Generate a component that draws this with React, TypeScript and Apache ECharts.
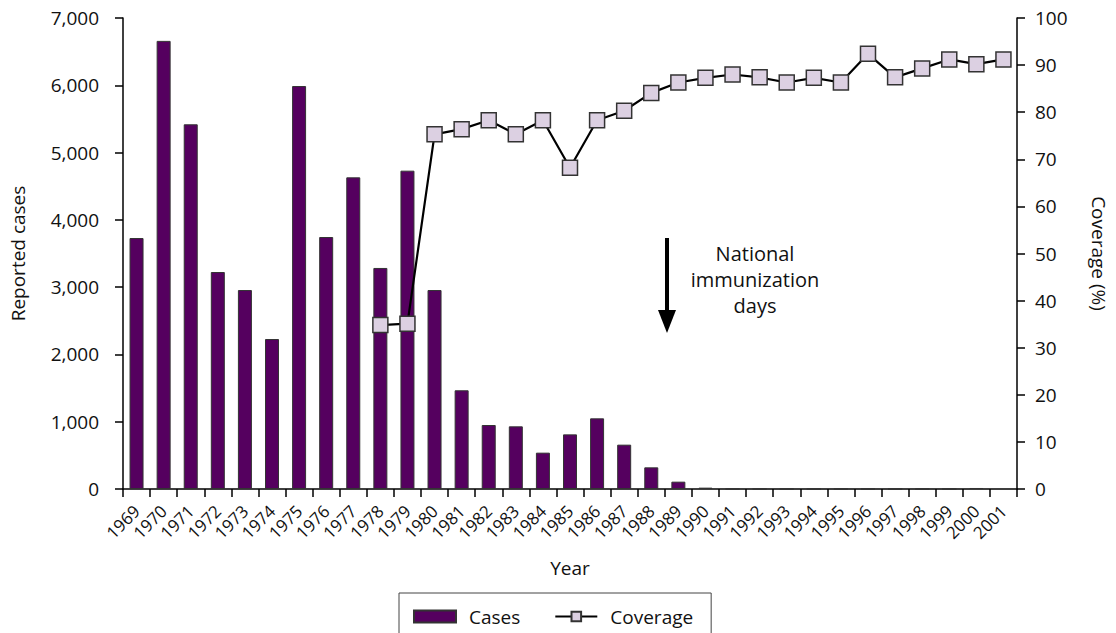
import React, { useEffect, useRef } from "react";
import * as echarts from "echarts";

const years: string[] = [
  "1969", "1970", "1971", "1972", "1973", "1974", "1975", "1976", "1977", "1978",
  "1979", "1980", "1981", "1982", "1983", "1984", "1985", "1986", "1987", "1988",
  "1989", "1990", "1991", "1992", "1993", "1994", "1995", "1996", "1997", "1998",
  "1999", "2000", "2001",
];

const cases: (number | null)[] = [
  3730, 6660, 5420, 3225, 2957, 2229, 5989, 3745, 4632, 3285,
  4731, 2957, 1467, 951, 931, 540, 812, 1050, 659, 322,
  109, 20, 0, 0, 0, 0, 0, 0, 0, 0,
  0, 15, null,
];

const coverage: (number | null)[] = [
  null, null, null, null, null, null, null, null, null, 34.8,
  35.1, 75.3, 76.4, 78.3, 75.3, 78.3, 68.2, 78.3, 80.3, 84.1,
  86.3, 87.3, 88.0, 87.4, 86.3, 87.3, 86.3, 92.4, 87.4, 89.3,
  91.2, 90.2, 91.2,
];

const leftTicks = { min: 0, max: 7000, interval: 1000 };
const rightTicks = { min: 0, max: 100, interval: 10 };

const FONT = "'Open Sans', 'Noto Sans', sans-serif";
const FS = 19;

export default function App() {
  const ref = useRef<HTMLDivElement>(null);

  useEffect(() => {
    document.body.style.margin = "0";
    if (!ref.current) return;
    const chart = echarts.init(ref.current, undefined, { renderer: "svg" });
    const axisLine = { show: true, lineStyle: { color: "#000", width: 1.5 } };
    const axisTick = { show: true, length: 8, lineStyle: { color: "#000", width: 1.5 } };
    chart.setOption({
      animation: false,
      backgroundColor: "#fff",
      textStyle: { fontFamily: FONT, color: "#111" },
      grid: { left: 121, right: 99, top: 18, bottom: 144, containLabel: false },
      legend: {
        left: 399,
        top: 593,
        padding: [14, 18, 14, 14],
        borderColor: "#444",
        borderWidth: 1,
        itemWidth: 42,
        itemHeight: 12,
        itemGap: 34,
        textStyle: { fontFamily: FONT, fontSize: FS, color: "#111", padding: [0, 0, 0, 8] },
        data: [
          { name: "Cases", icon: "rect" },
          { name: "Coverage" },
        ],
      },
      xAxis: {
        type: "category",
        data: years,
        boundaryGap: true,
        name: "Year",
        nameLocation: "middle",
        nameGap: 69,
        nameTextStyle: { fontFamily: FONT, fontSize: FS, color: "#111" },
        axisLine,
        axisTick: { ...axisTick, alignWithLabel: false, interval: 0 },
        axisLabel: {
          interval: 0,
          rotate: 45,
          fontFamily: FONT,
          fontSize: 17,
          color: "#111",
          margin: 19,
        },
        splitLine: { show: false },
      },
      yAxis: [
        {
          type: "value",
          position: "left",
          ...leftTicks,
          name: "Reported cases",
          nameLocation: "middle",
          nameGap: 96,
          nameTextStyle: { fontFamily: FONT, fontSize: FS, color: "#111" },
          axisLine,
          axisTick,
          splitLine: { show: false },
          axisLabel: {
            fontFamily: FONT,
            fontSize: FS,
            color: "#111",
            margin: 24,
            formatter: (v: number) => v.toLocaleString("en-US"),
          },
        },
        {
          type: "value",
          position: "right",
          ...rightTicks,
          name: "Coverage (%)",
          nameLocation: "middle",
          nameGap: 72,
          nameRotate: -90,
          nameTextStyle: { fontFamily: FONT, fontSize: FS, color: "#111" },
          axisLine,
          axisTick,
          splitLine: { show: false },
          axisLabel: { fontFamily: FONT, fontSize: FS, color: "#111", margin: 18 },
        },
      ],
      series: [
        {
          name: "Cases",
          type: "bar",
          yAxisIndex: 0,
          data: cases,
          barWidth: 14,
          itemStyle: { color: "#55005f", borderColor: "#333", borderWidth: 1 },
        },
        {
          name: "Coverage",
          type: "line",
          yAxisIndex: 1,
          data: coverage,
          connectNulls: false,
          symbol: "rect",
          symbolSize: 15,
          lineStyle: { color: "#000", width: 2.2 },
          itemStyle: { color: "#dcd0e2", borderColor: "#333", borderWidth: 1.5 },
          z: 5,
        },
      ],
      graphic: [
        {
          type: "line",
          shape: { x1: 667, y1: 238, x2: 667, y2: 312 },
          style: { stroke: "#000", lineWidth: 4 },
        },
        {
          type: "polygon",
          shape: { points: [[658, 310], [676, 310], [667, 333]] },
          style: { fill: "#000" },
        },
        {
          type: "text",
          x: 755,
          y: 240,
          style: {
            text: "National\nimmunization\ndays",
            fontFamily: FONT,
            fontSize: 20,
            fill: "#111",
            align: "center",
            verticalAlign: "top",
            lineHeight: 26,
          },
        },
      ],
    });
    return () => chart.dispose();
  }, []);

  return <div ref={ref} style={{ width: 1116, height: 633 }} />;
}
